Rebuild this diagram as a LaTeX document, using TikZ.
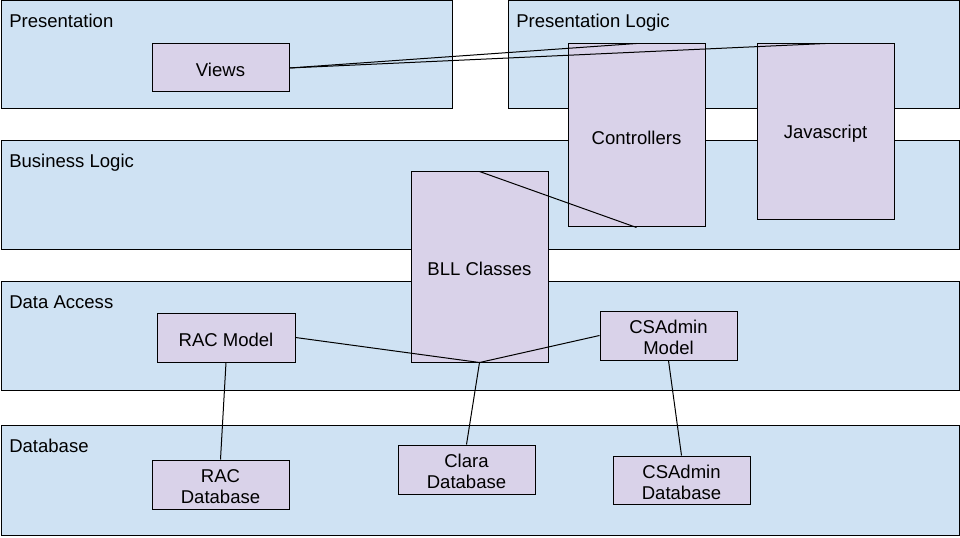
\documentclass[tikz,border=0pt]{standalone}
\usepackage{fontspec}
\setmainfont{Liberation Sans}
\usetikzlibrary{fit}
\definecolor{layerfill}{HTML}{CFE2F3}
\definecolor{boxfill}{HTML}{D9D2E9}
\tikzset{
  layerbox/.style={draw=black, fill=layerfill, line width=0.75pt, inner sep=0pt},
  boxnode/.style={draw=black, fill=boxfill, line width=0.75pt, inner sep=0pt, align=center,
    font=\fontsize{13.9}{15.75}\selectfont},
  boxtext/.style={inner sep=0pt, align=center, yshift=-1.5pt,
    font=\fontsize{13.9}{15.75}\selectfont},
  layerlabel/.style={anchor=base west, inner sep=0pt, font=\fontsize{13.9}{15.75}\selectfont},
  link/.style={draw=black, line width=0.75pt}
}
\begin{document}
\begin{tikzpicture}[x=0.75pt, y=-0.75pt]
\useasboundingbox (0,0) rectangle (960,538);
% layers
\node[layerbox, fit={(1,1)(452,109)}] (Lpres) {};
\node[layerbox, fit={(508,1)(959,109)}] (Lplogic) {};
\node[layerbox, fit={(1,141)(959,250)}] (Lbll) {};
\node[layerbox, fit={(1,282)(959,390)}] (Lda) {};
\node[layerbox, fit={(1,425)(959,535)}] (Ldb) {};
\node[layerlabel] (tpres) at (9,28) {Presentation};
\node[layerlabel] (tplogic) at (516,28) {Presentation Logic};
\node[layerlabel] (tbll) at (9,168) {Business Logic};
\node[layerlabel] (tda) at (9,309) {Data Access};
\node[layerlabel] (tdb) at (9,452) {Database};
% boxes
\node[boxnode, fit={(152,44)(289,92)}] (views) {};
\node[boxnode, fit={(568,44)(705,227)}] (ctrl) {};
\node[boxnode, fit={(757,44)(894,220)}] (js) {};
\node[boxnode, fit={(411,172)(548,362)}] (bll) {};
\node[boxnode, fit={(157,313)(295,362)}] (racm) {};
\node[boxnode, fit={(600,311)(737,360)}] (csm) {};
\node[boxnode, fit={(152,460)(289,509)}] (racdb) {};
\node[boxnode, fit={(398,445)(535,494)}] (claradb) {};
\node[boxnode, fit={(613,456)(750,504)}] (csdb) {};
\node[boxtext] (tviews) at (views.center) {Views};
\node[boxtext] (tctrl) at (ctrl.center) {Controllers};
\node[boxtext] (tjs) at (js.center) {Javascript};
\node[boxtext] (tbllc) at (bll.center) {BLL Classes};
\node[boxtext] (tracm) at (racm.center) {RAC Model};
\node[boxtext] (tcsm) at (csm.center) {CSAdmin\\Model};
\node[boxtext] (tracdb) at (racdb.center) {RAC\\Database};
\node[boxtext] (tclaradb) at (claradb.center) {Clara\\Database};
\node[boxtext] (tcsdb) at (csdb.center) {CSAdmin\\Database};
% connectors
\draw[link] (views.east) -- (ctrl.north);
\draw[link] (views.east) -- (js.north);
\draw[link] (bll.north) -- (ctrl.south);
\draw[link] (racm.east) -- (bll.south);
\draw[link] (csm.west) -- (bll.south);
\draw[link] (bll.south) -- (claradb.north);
\draw[link] (racm.south) -- (racdb.north);
\draw[link] (csm.south) -- (csdb.north);
\end{tikzpicture}
\end{document}
